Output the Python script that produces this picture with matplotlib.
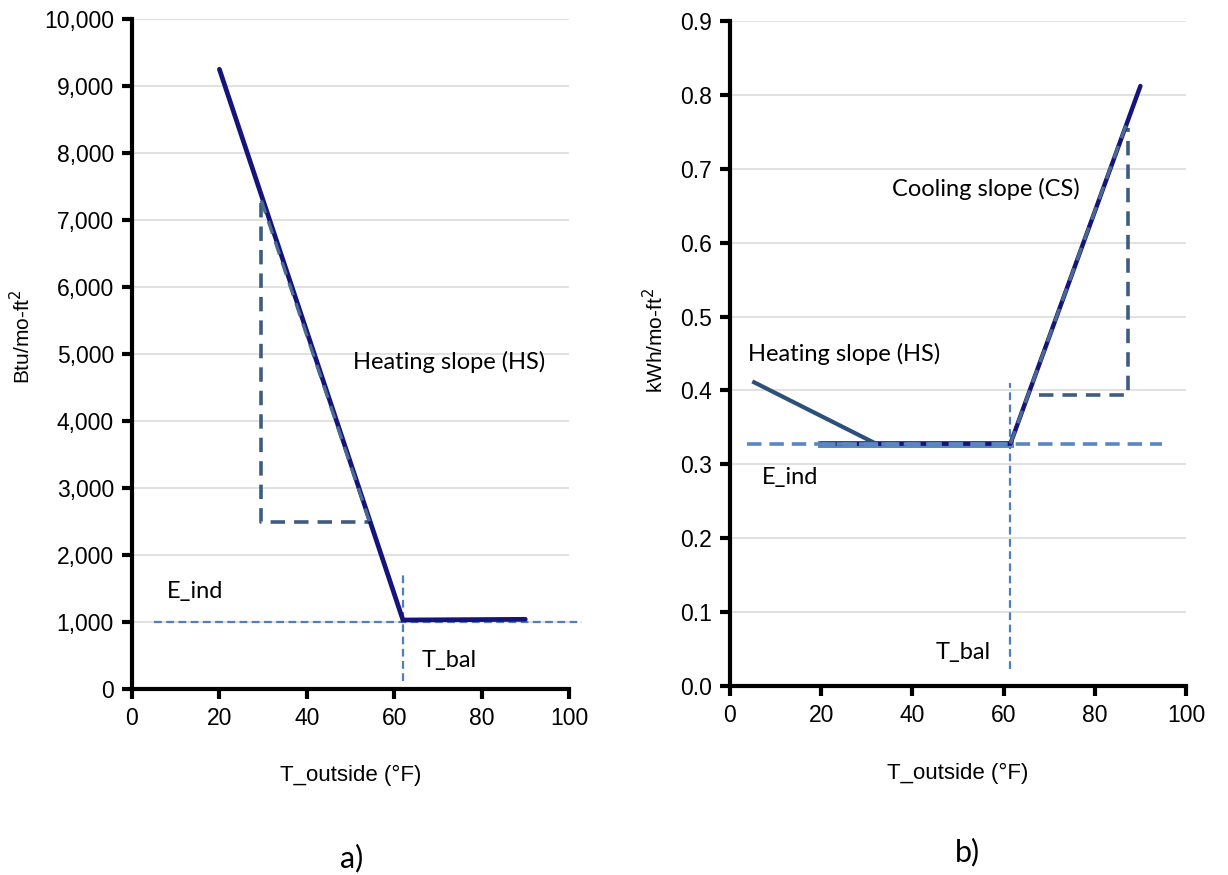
import matplotlib
matplotlib.use("Agg")
import matplotlib.pyplot as plt
from matplotlib.ticker import FuncFormatter

# ---------------- data ----------------
# panel a) heating (Btu/mo-ft2)
a_line_x = [20, 62, 90]
a_line_y = [9250, 1030, 1040]
a_eind_x = [5, 103]
a_eind_y = [1000, 1000]
a_tbal_x = [62, 62]
a_tbal_y = [120, 1700]
a_tri_x = [29.6, 29.6, 54.5]
a_tri_y = [7250, 2500, 2500]
a_hyp_x = [29.6, 54.5]
a_hyp_y = [7290, 2470]

# panel b) electricity (kWh/mo-ft2)
b_heat_x = [5.3, 32, 61.5]
b_heat_y = [0.411, 0.328, 0.328]
b_cool_x = [20, 61.5, 90]
b_cool_y = [0.328, 0.328, 0.812]
b_flat_x = [20, 61.5]
b_flat_y = [0.328, 0.328]
b_hyp_x = [61.5, 87.2]
b_hyp_y = [0.328, 0.765]
b_eind_x = [3.8, 94.8]
b_eind_y = [0.327, 0.327]
b_tbal_x = [61.5, 61.5]
b_tbal_y = [0.023, 0.41]
b_tri_x = [67.8, 87.2, 87.2]
b_tri_y = [0.394, 0.394, 0.755]

x_ticks = [0, 20, 40, 60, 80, 100]
a_yticks = [0, 1000, 2000, 3000, 4000, 5000, 6000, 7000, 8000, 9000, 10000]
b_yticks = [0.0, 0.1, 0.2, 0.3, 0.4, 0.5, 0.6, 0.7, 0.8, 0.9]

# ---------------- style ----------------
NAVY = "#14147a"
SLATE = "#3e5c80"
EBLUE = "#4f7fbf"
EBLUE2 = "#5a86c2"
GRID = "#d9d9d9"
TICKFONT = "Liberation Sans"
NOTEFONT = "Lato"
NOTESIZE = 17

fig = plt.figure(figsize=(12.28, 8.75), dpi=100)
W, H = 1228, 875

A_L, A_R, A_T, A_B = 132, 569, 19, 689
B_L, B_R, B_T, B_B = 730, 1186, 21, 686
ax1 = fig.add_axes([A_L / W, 1 - A_B / H, (A_R - A_L) / W, (A_B - A_T) / H])
ax2 = fig.add_axes([B_L / W, 1 - B_B / H, (B_R - B_L) / W, (B_B - B_T) / H])


def style(ax, yticks, ymax, fmt):
    ax.set_xlim(0, 100)
    ax.set_ylim(0, ymax)
    ax.set_xticks(x_ticks)
    ax.set_yticks(yticks)
    ax.yaxis.set_major_formatter(FuncFormatter(fmt))
    for s in ("top", "right"):
        ax.spines[s].set_visible(False)
    for s in ("left", "bottom"):
        ax.spines[s].set_linewidth(3.0)
        ax.spines[s].set_color("black")
    ax.tick_params(direction="out", length=7, width=3.0, pad=6,
                   labelsize=16.5, colors="black")
    for lab in ax.get_xticklabels() + ax.get_yticklabels():
        lab.set_fontfamily(TICKFONT)
    ax.yaxis.grid(True, color=GRID, linewidth=1.1)
    ax.set_axisbelow(True)


style(ax1, a_yticks, 10000, lambda v, p: f"{v:,.0f}")
style(ax2, b_yticks, 0.9, lambda v, p: f"{v:.1f}")

# ---------- panel a ----------
ax1.plot(a_eind_x, a_eind_y, color=EBLUE, lw=1.6, ls=(0, (3.5, 2)),
         clip_on=False, zorder=3)
ax1.plot(a_tbal_x, a_tbal_y, color=EBLUE, lw=1.6, ls=(0, (3.5, 2)), zorder=3)
ax1.plot(a_tri_x, a_tri_y, color=SLATE, lw=2.6, ls=(0, (4, 2.5)), zorder=3)
ax1.plot(a_line_x, a_line_y, color=NAVY, lw=3.4, solid_capstyle="round",
         solid_joinstyle="miter", zorder=4)
ax1.plot(a_hyp_x, a_hyp_y, color="#4a6a92", lw=2.4, ls=(0, (4, 2.5)), zorder=5)

ax1.text(50.5, 4880, "Heating slope (HS)", fontsize=NOTESIZE, family=NOTEFONT,
         va="center", ha="left")
ax1.text(8, 1460, "E_ind", fontsize=NOTESIZE, family=NOTEFONT,
         va="center", ha="left")
ax1.text(66.3, 420, "T_bal", fontsize=NOTESIZE, family=NOTEFONT,
         va="center", ha="left")

ax1.set_ylabel("Btu/mo-ft$^2$", fontsize=15, family=TICKFONT)
ax1.yaxis.label.set_va("center")
ax1.yaxis.set_label_coords((22 - A_L) / (A_R - A_L), (A_B - 337) / (A_B - A_T))
ax1.set_xlabel("T_outside (°F)", fontsize=16, family=TICKFONT)
ax1.xaxis.label.set_va("center")
ax1.xaxis.set_label_coords(0.5, -(775 - A_B) / (A_B - A_T))

# ---------- panel b ----------
ax2.plot(b_tbal_x, b_tbal_y, color=EBLUE, lw=1.6, ls=(0, (3.5, 2)), zorder=3)
ax2.plot(b_tri_x, b_tri_y, color=SLATE, lw=2.6, ls=(0, (4, 2.5)), zorder=3)
ax2.plot(b_heat_x, b_heat_y, color="#2e4f78", lw=3.0, zorder=4)
ax2.plot(b_flat_x, b_flat_y, color=EBLUE2, lw=5.0, zorder=4)
ax2.plot(b_cool_x, b_cool_y, color=NAVY, lw=3.2, solid_capstyle="round",
         zorder=4)
ax2.plot(b_flat_x, b_flat_y, color=EBLUE2, lw=3.4, ls=(0, (3, 1.5)), zorder=5)
ax2.plot(b_hyp_x, b_hyp_y, color="#4a6a92", lw=2.4, ls=(0, (4, 2.5)), zorder=5)
ax2.plot(b_eind_x, b_eind_y, color=EBLUE2, lw=2.6, ls=(0, (4, 2.2)), zorder=6)

ax2.text(35.5, 0.673, "Cooling slope (CS)", fontsize=NOTESIZE, family=NOTEFONT,
         va="center", ha="left")
ax2.text(4.0, 0.449, "Heating slope (HS)", fontsize=NOTESIZE, family=NOTEFONT,
         va="center", ha="left")
ax2.text(7.0, 0.282, "E_ind", fontsize=NOTESIZE, family=NOTEFONT,
         va="center", ha="left")
ax2.text(45.2, 0.046, "T_bal", fontsize=NOTESIZE, family=NOTEFONT,
         va="center", ha="left")

ax2.set_ylabel("kWh/mo-ft$^2$", fontsize=15, family=TICKFONT)
ax2.yaxis.label.set_va("center")
ax2.yaxis.set_label_coords((655 - B_L) / (B_R - B_L), (B_B - 340) / (B_B - B_T))
ax2.set_xlabel("T_outside (°F)", fontsize=16, family=TICKFONT)
ax2.xaxis.label.set_va("center")
ax2.xaxis.set_label_coords(0.5, -(773 - B_B) / (B_B - B_T))

# panel letters
fig.text(352 / W, 1 - 858 / H, "a)", fontsize=22, family=NOTEFONT,
         ha="center", va="center")
fig.text(967 / W, 1 - 852 / H, "b)", fontsize=22, family=NOTEFONT,
         ha="center", va="center")

fig.savefig("out.png", dpi=100, facecolor="white")
